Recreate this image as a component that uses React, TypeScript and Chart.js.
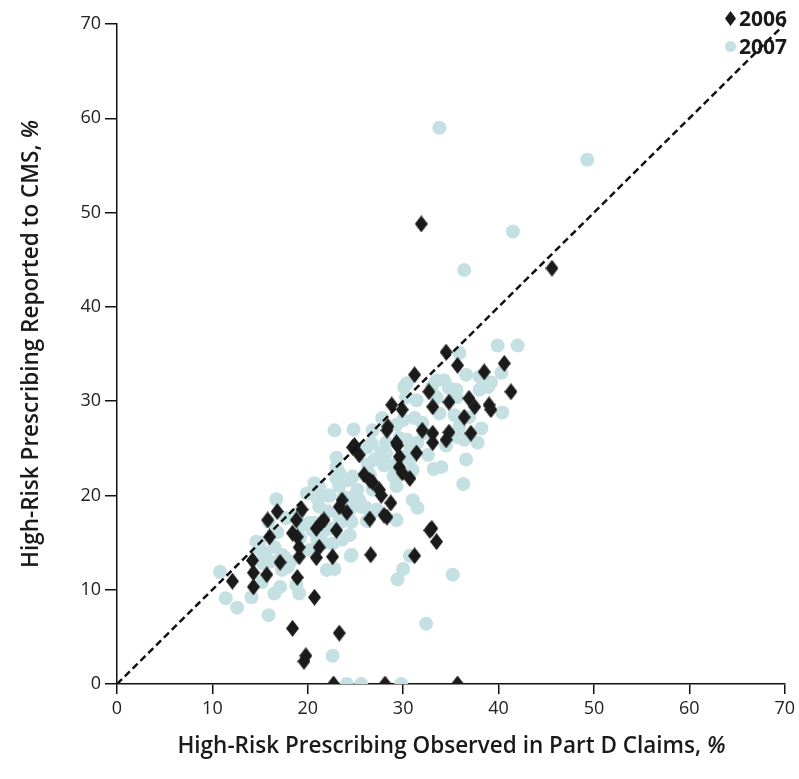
import React, { useEffect, useRef } from "react";
import { Chart, registerables } from "chart.js";
Chart.register(...registerables);

// 2006 series: observed (x) vs reported (y)
const obs2006 = [31.9, 45.6, 22.7, 28.1, 35.7, 19.6, 19.8, 18.4, 23.3, 33.0, 33.5, 31.2, 26.6, 20.7,
  12.1, 14.3, 14.3, 15.7, 18.9, 14.2, 17.1, 19.1, 20.9, 22.6, 19.1, 21.2, 16.0, 18.4, 18.9, 20.9,
  15.8, 16.8, 18.8, 19.4, 21.7, 21.4, 23.0, 23.3, 23.6, 24.1, 26.5, 28.0, 28.7, 27.5, 26.8, 25.9,
  26.5, 25.4, 24.7, 24.9, 29.4, 29.6, 29.6, 29.9, 30.7, 31.4, 32.8, 27.7, 28.3, 28.8, 28.4, 29.3,
  28.3, 32.0, 33.1, 34.5, 33.1, 34.8, 37.1, 36.4, 29.9, 33.1, 34.8, 36.9, 37.5, 39.0, 39.2, 32.7,
  31.2, 34.5, 35.7, 38.5, 40.6, 41.3];
const rep2006 = [48.8, 44.1, 0, 0, 0, 2.4, 3.0, 5.9, 5.4, 16.5, 15.1, 13.6, 13.7, 9.2,
  10.9, 10.3, 11.8, 11.6, 11.3, 13.1, 12.9, 13.5, 13.4, 13.5, 14.5, 14.5, 15.6, 16.0, 15.6, 16.5,
  17.4, 18.3, 17.4, 18.5, 17.4, 17.1, 16.3, 18.8, 19.5, 18.2, 17.5, 17.9, 19.2, 20.6, 21.4, 22.2,
  21.6, 24.3, 25.1, 25.3, 25.3, 24.1, 23.0, 22.4, 21.8, 24.5, 16.3, 20.0, 17.7, 29.6, 27.3, 25.6,
  26.9, 26.9, 25.6, 25.9, 26.6, 26.7, 26.6, 28.3, 29.1, 29.4, 29.9, 30.3, 29.4, 29.6, 29.1, 31.0,
  32.8, 35.2, 33.8, 33.1, 34.0, 31.0];

// 2007 series: observed (x) vs reported (y)
const obs2007 = [33.8, 49.3, 41.5, 36.4, 42.0, 39.9, 35.9, 32.4, 35.2, 22.6, 24.1, 25.6, 29.8, 10.8,
  11.4, 12.6, 15.9, 36.3, 36.6, 29.4, 30.0, 30.7, 24.5, 22.0, 22.8,
  14.1, 15.2, 16.5, 17.1, 18.8, 19.1, 17.3, 17.9, 16.7, 15.9, 16.8, 14.6, 14.8, 15.3, 17.3, 17.4,
  19.5, 20.5, 21.0, 20.2, 21.6, 22.6, 23.6, 24.4, 24.6, 20.7, 21.2, 22.1, 20.9, 22.1, 23.3, 24.2,
  23.0, 23.3, 24.7, 25.6, 26.8, 26.2, 26.8, 20.7, 19.9, 19.1, 17.7, 20.2, 14.9, 15.5, 16.5, 17.6,
  18.2, 19.2, 16.1,
  26.2, 27.0, 27.7, 28.2, 28.8, 28.0, 29.0, 29.3, 30.7, 30.0, 30.7, 31.0, 26.3, 26.5, 24.7, 25.2,
  23.0, 23.0, 23.3, 21.2, 21.0, 22.3, 23.8, 25.4, 26.1, 27.2, 24.4, 23.5, 24.6, 22.6, 21.6, 29.3,
  31.0, 31.5, 22.8, 24.8, 26.8, 27.8, 29.3, 30.1, 29.6, 28.2, 26.7,
  40.3, 39.2, 38.0, 36.6, 34.3, 33.5, 33.0, 34.8, 35.6, 38.0, 38.9, 30.4, 30.3, 31.4, 33.5, 35.6,
  40.4, 35.4, 33.8, 31.2, 30.0, 36.9, 35.9, 32.0, 32.2, 30.4, 31.5, 35.7, 34.5, 36.4, 38.2, 37.8,
  32.6, 34.0, 33.2];
const rep2007 = [59.0, 55.6, 48.0, 43.9, 35.9, 35.9, 35.1, 6.4, 11.6, 3.0, 0, 0, 0, 11.9,
  9.1, 8.1, 7.3, 21.2, 23.8, 11.1, 12.2, 13.6, 13.6, 12.1, 12.2,
  9.2, 10.8, 9.6, 10.3, 10.5, 9.6, 12.1, 12.4, 19.6, 17.2, 16.1, 15.1, 14.0, 12.8, 13.7, 12.9,
  16.9, 16.3, 15.3, 14.2, 14.9, 14.9, 15.3, 15.8, 13.7, 17.1, 18.8, 20.0, 21.1, 18.3, 17.7, 21.6,
  24.0, 22.4, 19.8, 18.8, 18.2, 17.3, 20.6, 21.3, 20.2, 18.2, 17.6, 17.1, 15.0, 13.9, 14.5, 13.4,
  13.0, 15.5, 13.0,
  25.1, 23.8, 24.6, 24.5, 23.2, 23.2, 22.0, 21.0, 25.3, 24.1, 23.8, 22.7, 23.3, 22.2, 22.0, 20.6,
  23.0, 21.8, 21.0, 20.9, 19.7, 20.0, 19.8, 19.5, 18.7, 18.5, 18.5, 17.2, 17.2, 16.5, 16.2, 17.4,
  19.5, 18.7, 26.9, 27.0, 26.9, 28.2, 27.5, 31.5, 26.1, 25.6, 25.5,
  33.0, 32.0, 32.6, 32.8, 32.2, 32.2, 31.5, 31.4, 31.2, 31.2, 31.5, 31.9, 30.4, 30.1, 30.4, 30.4,
  28.8, 28.5, 28.7, 28.2, 28.0, 28.3, 27.3, 27.7, 26.6, 25.9, 25.6, 26.2, 25.3, 25.9, 27.1, 25.6,
  24.3, 23.0, 22.8];

const axisTicks = [0, 10, 20, 30, 40, 50, 60, 70];
const identityLine = [0, 70];

const DIAMOND = "#1b1b1b";
const CIRCLE = "#c4e0e3";

function makeDiamond(w: number, h: number, color: string) {
  const c = document.createElement("canvas");
  c.width = w;
  c.height = h;
  const g = c.getContext("2d")!;
  g.fillStyle = color;
  g.beginPath();
  g.moveTo(w / 2, 0);
  g.lineTo(w, h / 2);
  g.lineTo(w / 2, h);
  g.lineTo(0, h / 2);
  g.closePath();
  g.fill();
  return c;
}

function pairs(xs: number[], ys: number[]) {
  return xs.map((x, i) => ({ x, y: ys[i] }));
}

export default function App() {
  const ref = useRef<HTMLCanvasElement>(null);
  useEffect(() => {
    document.body.style.margin = "0";
    const diamond = makeDiamond(13, 17, DIAMOND);
    const tickFont = { family: "'Open Sans', sans-serif", size: 18 };
    const chart = new Chart(ref.current!, {
      type: "scatter",
      data: {
        datasets: [
          {
            label: "identity",
            data: identityLine.map((v) => ({ x: v, y: v })),
            showLine: true,
            borderColor: "#111",
            borderWidth: 2.5,
            borderDash: [7, 4],
            pointRadius: 0,
            order: 0,
          },
          {
            label: "2006",
            data: pairs(obs2006, rep2006),
            pointStyle: diamond as any,
            backgroundColor: DIAMOND,
            borderWidth: 0,
            pointRadius: 7,
            order: 1,
          },
          {
            label: "2007",
            data: pairs(obs2007, rep2007),
            pointStyle: "circle",
            backgroundColor: CIRCLE,
            borderColor: CIRCLE,
            borderWidth: 0,
            pointRadius: 7,
            order: 2,
          },
        ],
      },
      options: {
        animation: false,
        responsive: false,
        maintainAspectRatio: false,
        layout: { padding: { top: 24, right: 13, left: 0, bottom: 0 } },
        plugins: { legend: { display: false }, tooltip: { enabled: false } },
        scales: {
          x: {
            type: "linear",
            min: 0,
            max: 70,
            afterBuildTicks: (s: any) => {
              s.ticks = axisTicks.map((v) => ({ value: v }));
            },
            ticks: { color: "#222", font: tickFont, padding: 4, maxRotation: 0 },
            grid: { drawOnChartArea: false, drawTicks: true, tickLength: 10, color: "#111", lineWidth: 1.5 },
            border: { display: true, color: "#111", width: 1.5 },
            afterFit: (s: any) => {
              s.height = 95;
            },
          },
          y: {
            type: "linear",
            min: 0,
            max: 70,
            afterBuildTicks: (s: any) => {
              s.ticks = axisTicks.map((v) => ({ value: v }));
            },
            ticks: { color: "#222", font: tickFont, padding: 4 },
            grid: { drawOnChartArea: false, drawTicks: true, tickLength: 12, color: "#111", lineWidth: 1.5 },
            border: { display: true, color: "#111", width: 1.5 },
            afterFit: (s: any) => {
              s.width = 117;
            },
          },
        },
      },
    } as any);
    return () => chart.destroy();
  }, []);

  const titleFont: React.CSSProperties = {
    fontFamily: "'Open Sans', sans-serif",
    fontWeight: 600,
    fontSize: 22.5,
    color: "#1a1a1a",
    whiteSpace: "nowrap",
    position: "absolute",
    textAlign: "center",
    lineHeight: "26px",
  };

  return (
    <div style={{ position: "relative", width: 799, height: 779, background: "#fff" }}>
      <canvas ref={ref} width={799} height={779} style={{ display: "block" }} />
      <div style={{ ...titleFont, left: 117, width: 669, top: 732 }}>
        High-Risk Prescribing Observed in Part D Claims, <i>%</i>
      </div>
      <div
        style={{
          ...titleFont,
          left: 30 - 330,
          top: 344 - 13,
          width: 660,
          height: 26,
          transform: "rotate(-90deg)",
          transformOrigin: "center center",
        }}
      >
        High-Risk Prescribing Reported to CMS, <i>%</i>
      </div>
      <div
        style={{
          position: "absolute",
          left: 725,
          top: 11,
          width: 11,
          height: 15,
          background: DIAMOND,
          clipPath: "polygon(50% 0, 100% 50%, 50% 100%, 0 50%)",
        }}
      />
      <div style={{ ...titleFont, fontSize: 21, textAlign: "left", left: 739, top: 5, fontWeight: 700 }}>2006</div>
      <div
        style={{
          position: "absolute",
          left: 725,
          top: 41,
          width: 11,
          height: 11,
          borderRadius: "50%",
          background: CIRCLE,
        }}
      />
      <div style={{ ...titleFont, fontSize: 21, textAlign: "left", left: 739, top: 33, fontWeight: 700 }}>2007</div>
    </div>
  );
}
